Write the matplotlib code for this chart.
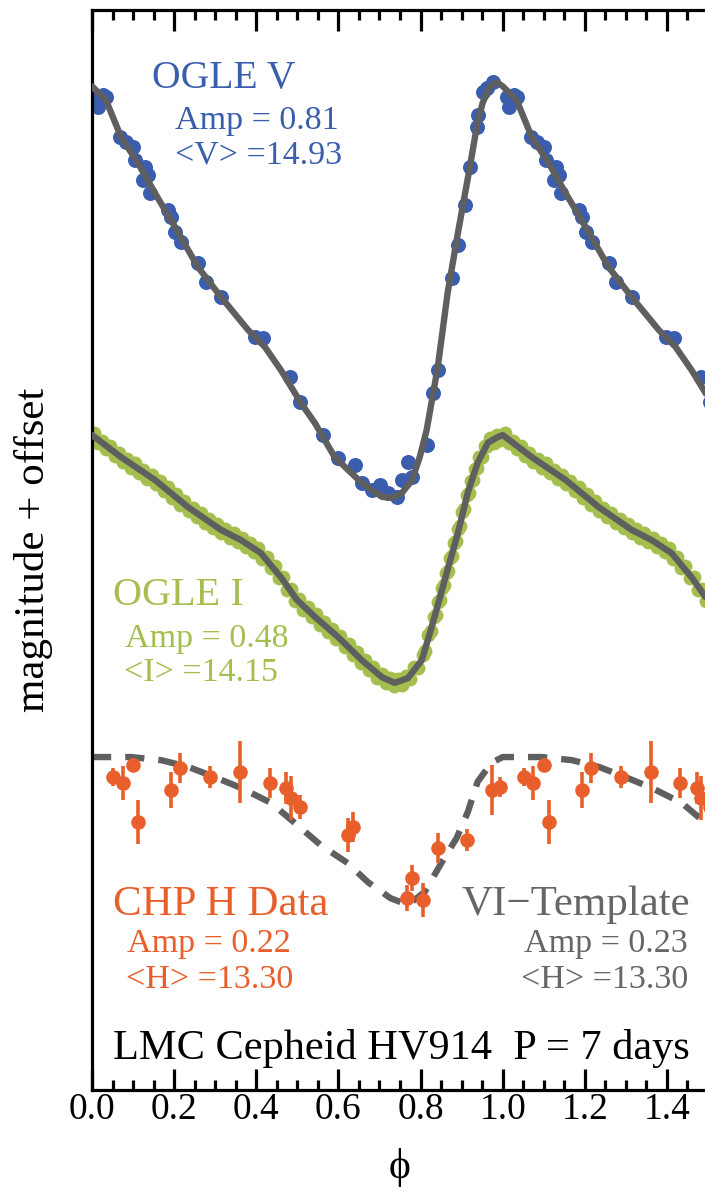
import numpy as np
import matplotlib
matplotlib.use("Agg")
import matplotlib.pyplot as plt
from matplotlib.ticker import MultipleLocator, FormatStrFormatter

plt.rcParams['font.family'] = ['Liberation Serif', 'DejaVu Serif']

# ---------------------------------------------------------------- data
# phases are given over one cycle (0-1); the plot shows 1.5 cycles.
# magnitudes are "magnitude + offset" (brighter = up)

# OGLE V light curve: template fit and photometry
v_fit_phase = [0.000, 0.034, 0.071, 0.112, 0.153, 0.202, 0.258, 0.314, 0.380,
               0.421, 0.460, 0.509, 0.543, 0.591, 0.657, 0.706, 0.730, 0.754,
               0.779, 0.798, 0.815, 0.842, 0.866, 0.891, 0.920, 0.938, 0.951,
               0.968, 0.985, 1.000]
v_fit_mag = [0.148, 0.175, 0.247, 0.297, 0.355, 0.421, 0.499, 0.557, 0.621,
             0.654, 0.699, 0.763, 0.802, 0.868, 0.918, 0.945, 0.947, 0.938,
             0.913, 0.868, 0.815, 0.693, 0.549, 0.433, 0.305, 0.222, 0.181,
             0.149, 0.140, 0.148]

v_obs_phase = [0.015, 0.027, 0.068, 0.083, 0.100, 0.105, 0.129, 0.136, 0.124,
               0.141, 0.185, 0.192, 0.202, 0.217, 0.258, 0.277, 0.314, 0.397,
               0.416, 0.482, 0.506, 0.562, 0.599, 0.640, 0.657, 0.681, 0.701,
               0.720, 0.742, 0.754, 0.779, 0.769, 0.815, 0.830, 0.842, 0.876,
               0.891, 0.908, 0.920, 0.937, 0.939, 0.951, 0.961, 0.976, 0.010,
               0.034]
v_obs_mag = [0.188, 0.165, 0.247, 0.256, 0.266, 0.291, 0.305, 0.320, 0.330,
             0.355, 0.388, 0.402, 0.431, 0.450, 0.491, 0.528, 0.557, 0.635,
             0.637, 0.712, 0.761, 0.825, 0.870, 0.883, 0.918, 0.932, 0.922,
             0.937, 0.945, 0.912, 0.906, 0.877, 0.844, 0.743, 0.699, 0.520,
             0.456, 0.378, 0.305, 0.227, 0.204, 0.159, 0.151, 0.140, 0.169,
             0.169]

# OGLE I light curve: template fit and photometry
i_fit_phase = [0.000, 0.071, 0.153, 0.234, 0.314, 0.363, 0.411, 0.460, 0.499,
               0.543, 0.599, 0.657, 0.706, 0.737, 0.769, 0.803, 0.827, 0.859,
               0.891, 0.915, 0.939, 0.964, 0.988, 1.000]
i_fit_mag = [0.825, 0.868, 0.912, 0.965, 1.009, 1.029, 1.054, 1.101, 1.145,
             1.178, 1.217, 1.262, 1.295, 1.306, 1.297, 1.262, 1.198, 1.106,
             1.015, 0.937, 0.879, 0.840, 0.829, 0.825]

i_obs_phase = [0.005, 0.015, 0.025, 0.035, 0.045, 0.055, 0.065, 0.075, 0.085,
               0.095, 0.105, 0.115, 0.125, 0.135, 0.145, 0.155, 0.165, 0.175,
               0.185, 0.195, 0.205, 0.215, 0.225, 0.235, 0.245, 0.255, 0.265,
               0.275, 0.285, 0.295, 0.305, 0.315, 0.325, 0.335, 0.345, 0.355,
               0.365, 0.375, 0.385, 0.395, 0.405, 0.415, 0.425, 0.435, 0.445,
               0.455, 0.465, 0.475, 0.485, 0.495, 0.505, 0.515, 0.525, 0.535,
               0.545, 0.555, 0.565, 0.575, 0.585, 0.595, 0.605, 0.615, 0.625,
               0.635, 0.645, 0.655, 0.665, 0.675, 0.685, 0.695, 0.705, 0.715,
               0.725, 0.735, 0.745, 0.755, 0.765, 0.775, 0.785, 0.795, 0.805,
               0.812, 0.819, 0.826, 0.832, 0.837, 0.842, 0.847, 0.852, 0.857,
               0.862, 0.867, 0.872, 0.877, 0.882, 0.887, 0.892, 0.897, 0.902,
               0.907, 0.912, 0.917, 0.922, 0.927, 0.932, 0.937, 0.943, 0.950,
               0.957, 0.963, 0.970, 0.978, 0.986, 0.994]
i_obs_mag = [0.822, 0.841, 0.836, 0.852, 0.846, 0.866, 0.860, 0.877, 0.871,
             0.889, 0.880, 0.899, 0.892, 0.910, 0.903, 0.921, 0.915, 0.933,
             0.926, 0.947, 0.940, 0.960, 0.953, 0.973, 0.966, 0.984, 0.976,
             0.995, 0.987, 1.006, 0.998, 1.016, 1.007, 1.024, 1.016, 1.033,
             1.024, 1.042, 1.034, 1.052, 1.045, 1.065, 1.061, 1.083, 1.080,
             1.103, 1.101, 1.125, 1.123, 1.147, 1.143, 1.164, 1.159, 1.179,
             1.173, 1.193, 1.187, 1.208, 1.201, 1.221, 1.215, 1.237, 1.230,
             1.252, 1.246, 1.268, 1.261, 1.282, 1.275, 1.296, 1.289, 1.307,
             1.296, 1.313, 1.298, 1.310, 1.292, 1.299, 1.275, 1.277, 1.252,
             1.244, 1.214, 1.206, 1.179, 1.175, 1.150, 1.146, 1.121, 1.117,
             1.092, 1.089, 1.064, 1.060, 1.035, 1.031, 1.007, 1.001, 0.974,
             0.968, 0.942, 0.937, 0.915, 0.913, 0.891, 0.889, 0.868, 0.867,
             0.846, 0.847, 0.831, 0.840, 0.824, 0.834]

# CHP H-band: VI-based template and observations with errors
h_tmpl_phase = [0.000, 0.095, 0.168, 0.234, 0.299, 0.363, 0.436, 0.494, 0.557,
                0.623, 0.672, 0.727, 0.769, 0.810, 0.852, 0.888, 0.915, 0.939,
                0.973, 1.000]
h_tmpl_mag = [1.450, 1.450, 1.456, 1.469, 1.489, 1.510, 1.539, 1.578, 1.621,
              1.656, 1.693, 1.724, 1.737, 1.712, 1.654, 1.607, 1.557, 1.498,
              1.461, 1.450]

h_obs_phase = [0.051, 0.075, 0.100, 0.112, 0.192, 0.214, 0.287, 0.360, 0.433,
               0.472, 0.484, 0.506, 0.623, 0.635, 0.779, 0.766, 0.805, 0.842,
               0.912, 0.973, 0.993]
h_obs_mag = [1.489, 1.501, 1.466, 1.576, 1.514, 1.471, 1.489, 1.479, 1.501,
             1.510, 1.530, 1.547, 1.601, 1.586, 1.685, 1.724, 1.728, 1.627,
             1.611, 1.514, 1.508]
h_obs_err = [0.017, 0.033, 0.014, 0.043, 0.035, 0.029, 0.021, 0.060, 0.029,
             0.031, 0.043, 0.023, 0.033, 0.029, 0.025, 0.025, 0.033, 0.029,
             0.021, 0.049, 0.019]

x_ticks = [0.0, 0.2, 0.4, 0.6, 0.8, 1.0, 1.2, 1.4]

# ---------------------------------------------------------------- style
BLUE = '#3a5dae'
GREEN = '#a4bf4e'
ORANGE = '#e85f2b'
GRAY = '#5f5f5f'
TEXTGRAY = '#666666'

W, H = 705, 1195
AX_LEFT, AX_RIGHT, AX_TOP, AX_BOTTOM = 92, 708, 10, 1090
PX_PER_MAG = 515.2


def two_cycles(phase, values):
    """Repeat a one-cycle series one period later."""
    p = np.asarray(phase, float)
    v = np.asarray(values, float)
    return np.concatenate([p, p + 1.0]), np.concatenate([v, v])


def fig_text(x_px, y_px, s, **kw):
    fig.text(x_px / W, 1 - y_px / H, s, **kw)


fig = plt.figure(figsize=(W / 100, H / 100), dpi=100)
ax = fig.add_axes([AX_LEFT / W, 1 - AX_BOTTOM / H,
                   (AX_RIGHT - AX_LEFT) / W, (AX_BOTTOM - AX_TOP) / H])
ax.set_xlim(0, 1.5)
ax.set_ylim((AX_BOTTOM - AX_TOP) / PX_PER_MAG, 0)

# V band
p, m = two_cycles(v_obs_phase, v_obs_mag)
ax.plot(p, m, 'o', color=BLUE, ms=10.8, mec='none', zorder=2)
p, m = two_cycles(v_fit_phase, v_fit_mag)
ax.plot(p, m, '-', color=GRAY, lw=4.6, solid_capstyle='round',
        solid_joinstyle='round', zorder=3)

# I band
p, m = two_cycles(i_obs_phase, i_obs_mag)
ax.plot(p, m, 'o', color=GREEN, ms=10.0, mec='none', zorder=2)
p, m = two_cycles(i_fit_phase, i_fit_mag)
ax.plot(p, m, '-', color=GRAY, lw=4.6, solid_capstyle='round',
        solid_joinstyle='round', zorder=3)

# H band
p, m = two_cycles(h_tmpl_phase, h_tmpl_mag)
ax.plot(p, m, '--', color=GRAY, lw=4.6, dashes=(3.0, 2.2), zorder=2)
p, m = two_cycles(h_obs_phase, h_obs_mag)
_, e = two_cycles(h_obs_phase, h_obs_err)
ax.errorbar(p, m, yerr=e, fmt='o', color=ORANGE, ms=10.5, mec='none',
            elinewidth=2.6, capsize=0, zorder=4)

# axes styling
for side in ('left', 'top', 'bottom', 'right'):
    ax.spines[side].set_linewidth(2.3)
ax.spines['right'].set_visible(False)
ax.set_xticks(x_ticks)
ax.xaxis.set_major_formatter(FormatStrFormatter('%.1f'))
ax.xaxis.set_minor_locator(MultipleLocator(0.05))
ax.set_yticks([])
ax.tick_params(axis='x', which='both', direction='in', top=True, bottom=True,
               width=2.3, labelsize=27, pad=2)
ax.tick_params(axis='x', which='major', length=15)
ax.tick_params(axis='x', which='minor', length=7.5)
ax.set_xlabel('ϕ', fontsize=30, labelpad=15)
ax.set_ylabel('magnitude + offset', fontsize=31, labelpad=28)

# annotations
fig_text(152, 88, 'OGLE V', color=BLUE, fontsize=28.5, va='baseline')
fig_text(175, 129, 'Amp = 0.81', color=BLUE, fontsize=24.5, va='baseline')
fig_text(175, 163, '<V> =14.93', color=BLUE, fontsize=24.5, va='baseline')

fig_text(113, 605, 'OGLE I', color=GREEN, fontsize=29, va='baseline')
fig_text(125, 647, 'Amp = 0.48', color=GREEN, fontsize=24.5, va='baseline')
fig_text(124, 681, '<I> =14.15', color=GREEN, fontsize=24.5, va='baseline')

fig_text(113, 915, 'CHP H Data', color=ORANGE, fontsize=31, va='baseline')
fig_text(127, 952, 'Amp = 0.22', color=ORANGE, fontsize=24.5, va='baseline')
fig_text(126, 988, '<H> =13.30', color=ORANGE, fontsize=24.5, va='baseline')

fig_text(690, 915, 'VI\u2212Template', color=TEXTGRAY, fontsize=31,
         va='baseline', ha='right')
fig_text(688, 952, 'Amp = 0.23', color=TEXTGRAY, fontsize=24.5,
         va='baseline', ha='right')
fig_text(688, 988, '<H> =13.30', color=TEXTGRAY, fontsize=24.5,
         va='baseline', ha='right')

fig_text(113, 1059, 'LMC Cepheid HV914  P = 7 days', color='black',
         fontsize=30.5, va='baseline')

fig.savefig('out.png', dpi=100)
